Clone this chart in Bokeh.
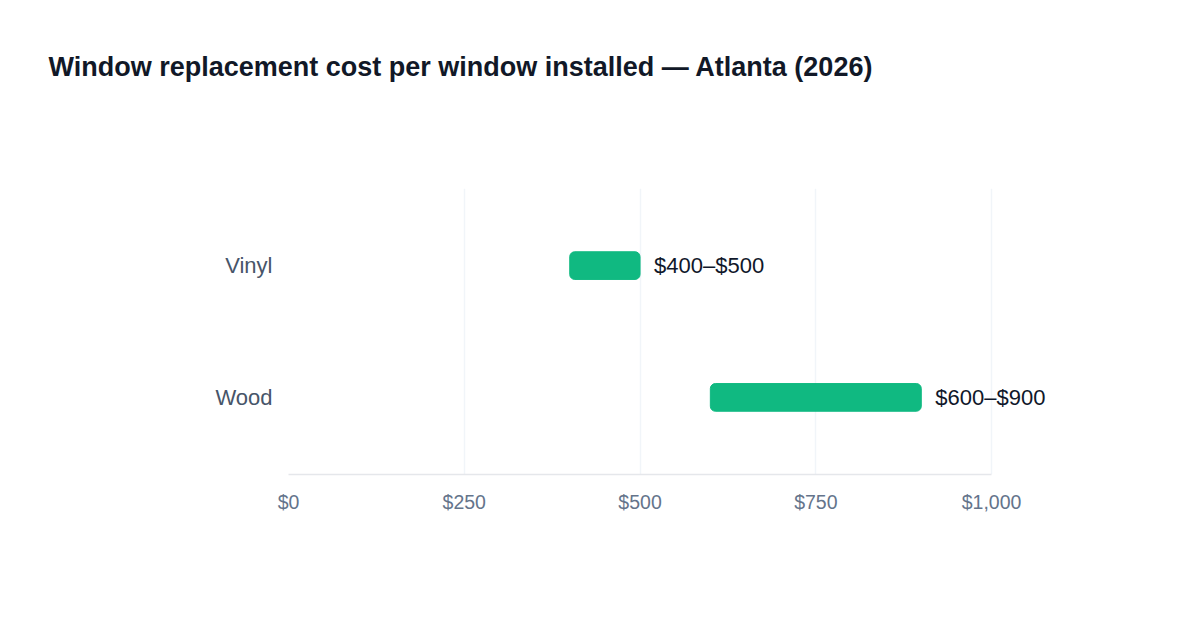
from bokeh.plotting import figure
from bokeh.models import ColumnDataSource, LabelSet, Title, FixedTicker, NumeralTickFormatter
from bokeh.core.properties import value
from bokeh.embed import file_html
from bokeh.resources import INLINE

# data
materials = ["Wood", "Vinyl"]
low = [600, 400]
high = [900, 500]
labels = ["$600–$900", "$400–$500"]
ticks = [0, 250, 500, 750, 1000]

FONT = "Liberation Sans"

src = ColumnDataSource(data=dict(material=materials, low=low, high=high, label=labels))

# x range runs past 1000 so the value labels have room inside the frame
p = figure(width=1200, height=630, y_range=materials, x_range=(0, 1098),
           output_backend="svg", toolbar_location=None,
           min_border_left=288, min_border_right=140,
           min_border_top=188, min_border_bottom=156)
p.outline_line_color = None
p.y_range.range_padding = 0.085

p.hbar(y="material", left="low", right="high", height=0.21, source=src,
       color="#10b981", border_radius=5)

p.add_layout(LabelSet(x="high", y="material", text="label", source=src,
                      x_offset=14, text_baseline="middle", text_font=value(FONT),
                      text_font_size="22px", text_color="#0f172a"))

# empty spacer title next to the frame pushes the real title up
p.add_layout(Title(text=" ", text_font_size="1px", standoff=104), "above")
title = Title(text="Window replacement cost per window installed — Atlanta (2026)",
              align="left", offset=-240, standoff=0,
              text_font=FONT, text_font_size="27px", text_color="#111827",
              text_font_style="bold")
p.add_layout(title, "above")

p.xaxis.ticker = FixedTicker(ticks=ticks)
p.xaxis.bounds = (0, 1000)
p.xaxis.formatter = NumeralTickFormatter(format="$0,0")
p.xaxis.axis_line_color = "#e5e7eb"
p.xaxis.axis_line_width = 1.5
p.xaxis.major_tick_line_color = None
p.xaxis.minor_tick_line_color = None
p.xaxis.major_label_text_font = FONT
p.xaxis.major_label_text_font_size = "19.5px"
p.xaxis.major_label_text_color = "#64748b"
p.xaxis.major_label_standoff = 10

p.yaxis.axis_line_color = None
p.yaxis.major_tick_line_color = None
p.yaxis.minor_tick_line_color = None
p.yaxis.major_label_text_font = FONT
p.yaxis.major_label_text_font_size = "22px"
p.yaxis.major_label_text_color = "#475569"
p.yaxis.major_label_standoff = 10

p.ygrid.grid_line_color = None
p.xgrid.grid_line_color = "#f1f5f9"
p.xgrid.grid_line_width = 1.5

open("out.html", "w").write(file_html(p, INLINE))
